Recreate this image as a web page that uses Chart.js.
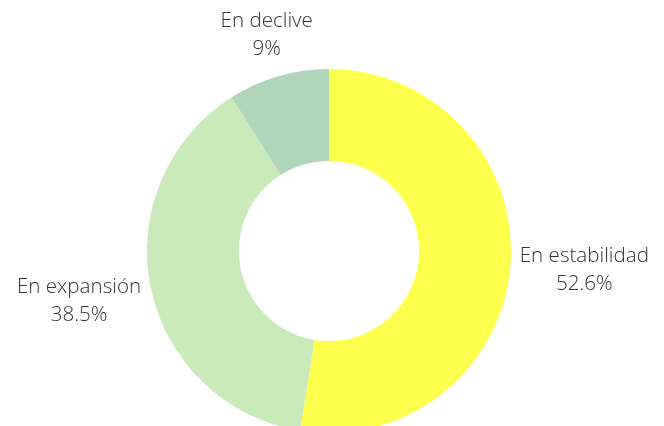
<!DOCTYPE html>
<html>
<head>
<meta charset="utf-8">
<script src="https://cdn.jsdelivr.net/npm/chart.js@4.4.1/dist/chart.umd.min.js"></script>
<style>
  html, body { margin: 0; padding: 0; background: #fff; overflow: hidden; }
  #chart { display: block; }
</style>
</head>
<body>
<canvas id="chart" width="664" height="440"></canvas>
<script>
const categories = ["En estabilidad", "En expansión", "En declive"];
const shares = [52.6, 38.5, 9];
const sliceColors = ["#ffff4d", "#c9ebbc", "#b0d5b8"];

const FONT = '300 20.6px "Open Sans"';

// draw "name / value%" outside each slice
const outsideLabels = {
  id: "outsideLabels",
  afterDraw(chart) {
    const ctx = chart.ctx;
    const meta = chart.getDatasetMeta(0);
    ctx.save();
    ctx.font = FONT;
    ctx.fillStyle = "#333";
    ctx.textAlign = "center";
    ctx.textBaseline = "alphabetic";
    meta.data.forEach((arc, i) => {
      const p = arc.getProps(["x", "y", "startAngle", "endAngle", "outerRadius"], true);
      const mid = (p.startAngle + p.endAngle) / 2;
      const cos = Math.cos(mid);
      const sin = Math.sin(mid);
      const line1 = categories[i];
      const line2 = shares[i] + "%";
      const w = Math.max(ctx.measureText(line1).width, ctx.measureText(line2).width);
      const h = 43;
      const dist = p.outerRadius + 8 + Math.abs(cos) * w / 2 + Math.abs(sin) * h / 2;
      const cx = p.x + cos * dist;
      const cy = p.y + sin * dist;
      ctx.fillText(line1, cx, cy - 9.5);
      ctx.fillText(line2, cx, cy + 18.5);
    });
    ctx.restore();
  },
};

new Chart(document.getElementById("chart"), {
  type: "doughnut",
  data: {
    labels: categories,
    datasets: [
      {
        data: shares,
        backgroundColor: sliceColors,
        borderWidth: 0,
      },
    ],
  },
  options: {
    responsive: false,
    animation: false,
    cutout: "49.5%",
    layout: { padding: { top: 69, bottom: 7, left: 147, right: 153 } },
    plugins: {
      legend: { display: false },
      tooltip: { enabled: false },
    },
  },
  plugins: [outsideLabels],
});
</script>
</body>
</html>
